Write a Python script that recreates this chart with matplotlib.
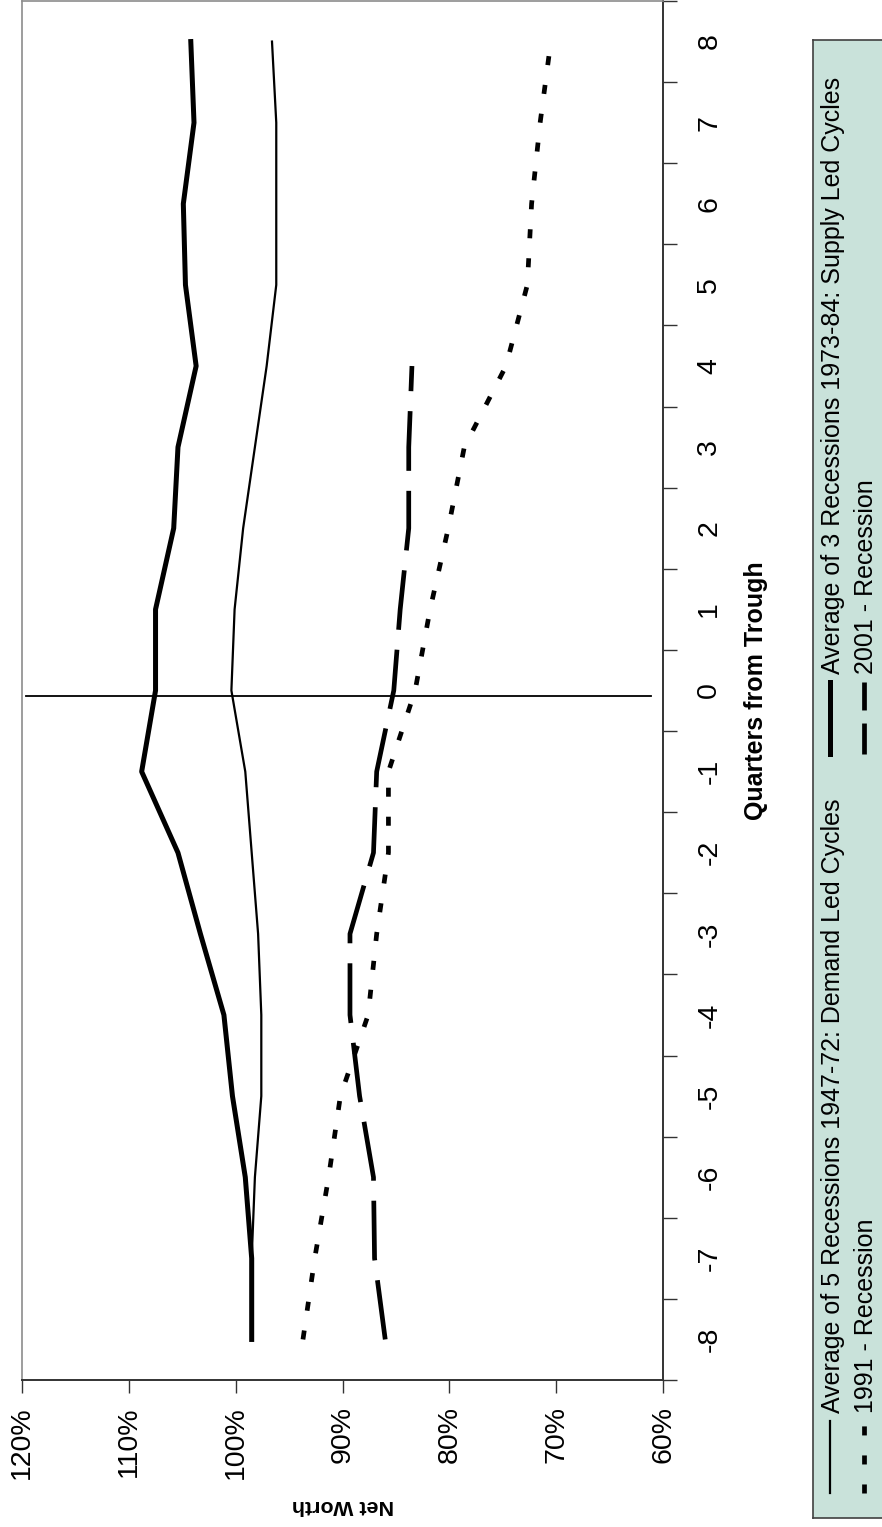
import matplotlib
matplotlib.use('Agg')
import matplotlib.pyplot as plt
import numpy as np

plt.rcParams['font.family'] = ['Liberation Sans', 'DejaVu Sans']
plt.rcParams['lines.scale_dashes'] = False

# ── data (net worth in % of trough level) ────────────────────────────────────
quarters = list(range(-8, 9))
quarters_2001 = list(range(-8, 5))

demand_avg = [98.5, 98.5, 98.2, 97.6, 97.6, 97.9, 98.5, 99.1, 100.4,
              100.1, 99.3, 98.2, 97.1, 96.2, 96.2, 96.2, 96.6]
supply_avg = [98.5, 98.5, 99.1, 100.3, 101.1, 103.3, 105.4, 108.8, 107.5,
              107.5, 105.8, 105.4, 103.7, 104.7, 104.9, 103.9, 104.2]
rec_1991 = [93.7, 92.6, 91.3, 90.2, 87.6, 86.8, 85.7, 85.7, 83.2,
            81.8, 80.1, 78.6, 74.7, 72.7, 72.3, 71.5, 70.5]
rec_2001 = [86.0, 87.0, 87.1, 88.4, 89.3, 89.3, 87.1, 86.8, 85.2,
            84.6, 83.8, 83.8, 83.5]

series_names = ['Average of 5 Recessions 1947-72: Demand Led Cycles',
                'Average of 3 Recessions 1973-84: Supply Led Cycles',
                '1991 - Recession',
                '2001 - Recession']

net_worth_ticks = [120, 110, 100, 90, 80, 70, 60]
net_worth_labels = ['120%', '110%', '100%', '90%', '80%', '70%', '60%']
quarter_labels = [str(q) for q in quarters]

# trough marker line (x = 0 in the unrotated chart)
trough_q = -0.07
trough_span = [119.6, 61.1]

# ── figure: the whole chart is turned 90° anticlockwise ──────────────────────
W, H = 882, 1527
fig = plt.figure(figsize=(W / 100, H / 100), dpi=100)
ax = fig.add_axes([22 / W, 1 - 1380 / H, (663 - 22) / W, (1380 - 1) / H])

styles = [
    dict(color='black', lw=1.6),
    dict(color='black', lw=3.6),
    dict(color='black', lw=3.4, dashes=(6.5, 14.4), dash_capstyle='butt'),
    dict(color='black', lw=3.4, dashes=(43, 14.4), dash_capstyle='butt'),
]
ax.plot(demand_avg, quarters, **styles[0])
ax.plot(supply_avg, quarters, **styles[1])
ax.plot(rec_1991, quarters, **styles[2])
ax.plot(rec_2001, quarters_2001, **styles[3])
ax.plot(trough_span, [trough_q, trough_q], color='black', lw=1.3)

ax.set_xlim(120, 60)
ax.set_ylim(-8.5, 8.5)

ax.set_xticks(net_worth_ticks)
ax.set_xticklabels(net_worth_labels)
ax.tick_params(axis='x', direction='out', length=9, width=1, pad=10,
               labelsize=20.5, labelrotation=90, color='#333333')

ax.yaxis.tick_right()
ax.set_yticks(quarters)
ax.set_yticklabels(quarter_labels)
ax.set_yticks(np.arange(-8.5, 9.0, 1.0), minor=True)
ax.tick_params(axis='y', which='major', length=0, pad=24,
               labelsize=20.5, labelrotation=90)
ax.tick_params(axis='y', which='minor', direction='out', length=10, width=1,
               color='#333333')
for lbl in ax.get_yticklabels():
    lbl.set_va('center')

for side in ['left', 'top']:
    ax.spines[side].set_color('#8c8c8c')
    ax.spines[side].set_linewidth(1.2)
for side in ['right', 'bottom']:
    ax.spines[side].set_color('#333333')
    ax.spines[side].set_linewidth(1.4)

ax.set_xlabel('Net Worth', rotation=180, fontsize=15.4, fontweight='bold')
ax.xaxis.set_label_coords(0.5, -(1506 - 1380) / 1379)
ax.xaxis.label.set_va('center')

ax.yaxis.set_label_position('right')
ax.set_ylabel('Quarters from Trough', rotation=90, fontsize=18,
              fontweight='bold')
ax.yaxis.set_label_coords((756 - 22) / 641, 0.5)
ax.yaxis.label.set_va('center')
ax.yaxis.label.set_ha('center')

# ── legend box, drawn by hand since it is turned too ─────────────────────────
lax = fig.add_axes([813 / W, 1 - 1518 / H, (886 - 813) / W, (1518 - 40) / H])
lax.set_xlim(813, 886)
lax.set_ylim(1518, 40)
lax.set_facecolor('#c9e2da')
lax.set_xticks([])
lax.set_yticks([])
for sp in lax.spines.values():
    sp.set_color('#404040')
    sp.set_linewidth(1.2)

legend_styles = [styles[0], styles[1], styles[2],
                 dict(color='black', lw=3.4, dashes=(22.3, 9.4),
                      dash_capstyle='butt')]
legend_rows = [830, 830, 864, 864]
legend_starts = [1493, 754, 1493, 754]
text_rows = [833, 833, 866, 866]
for name, st, xr, y0, xt in zip(series_names, legend_styles, legend_rows,
                                legend_starts, text_rows):
    lax.plot([xr, xr], [y0, y0 - 72], **st)
    lax.text(xt, y0 - 80, name, rotation=90, rotation_mode='anchor',
             ha='left', va='center', fontsize=18)

fig.savefig('out.png', dpi=100)
